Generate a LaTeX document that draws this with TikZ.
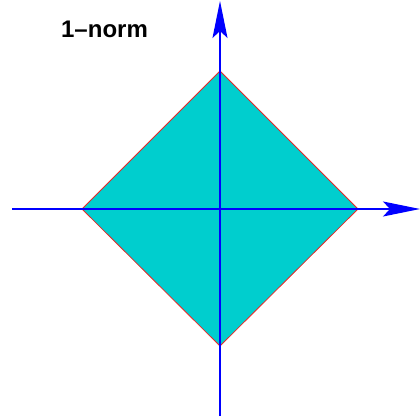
\documentclass[tikz,border=0pt]{standalone}
\usepackage{fontspec}
\setmainfont{Liberation Sans}
\usetikzlibrary{arrows.meta}
\definecolor{dfill}{RGB}{0,206,206}
\definecolor{dedge}{RGB}{230,40,40}
\begin{document}
\begin{tikzpicture}[x=1pt,y=-1pt,
  axis/.style={blue,line width=1.5pt},
  axtip/.style={-{Stealth[length=37pt,width=15pt,inset=7pt]}},
  region/.style={fill=dfill,draw=dedge,line width=0.8pt}]
\useasboundingbox (0,0) rectangle (420,419);
\coordinate (L) at (82,209);
\coordinate (T) at (220,71);
\coordinate (R) at (358,209);
\coordinate (B) at (220,346);
\coordinate (xs) at (12,209);
\coordinate (xe) at (420,209);
\coordinate (ys) at (220,416);
\coordinate (ye) at (220,1);
\fill[region] (L) -- (T) -- (R) -- (B) -- cycle;
\draw[axis,axtip] (xs) -- (xe);
\draw[axis,axtip] (ys) -- (ye);
\node[font=\bfseries\fontsize{24}{28}\selectfont,inner sep=0pt] (lbl) at (104.5,29) {1--norm};
\end{tikzpicture}
\end{document}
